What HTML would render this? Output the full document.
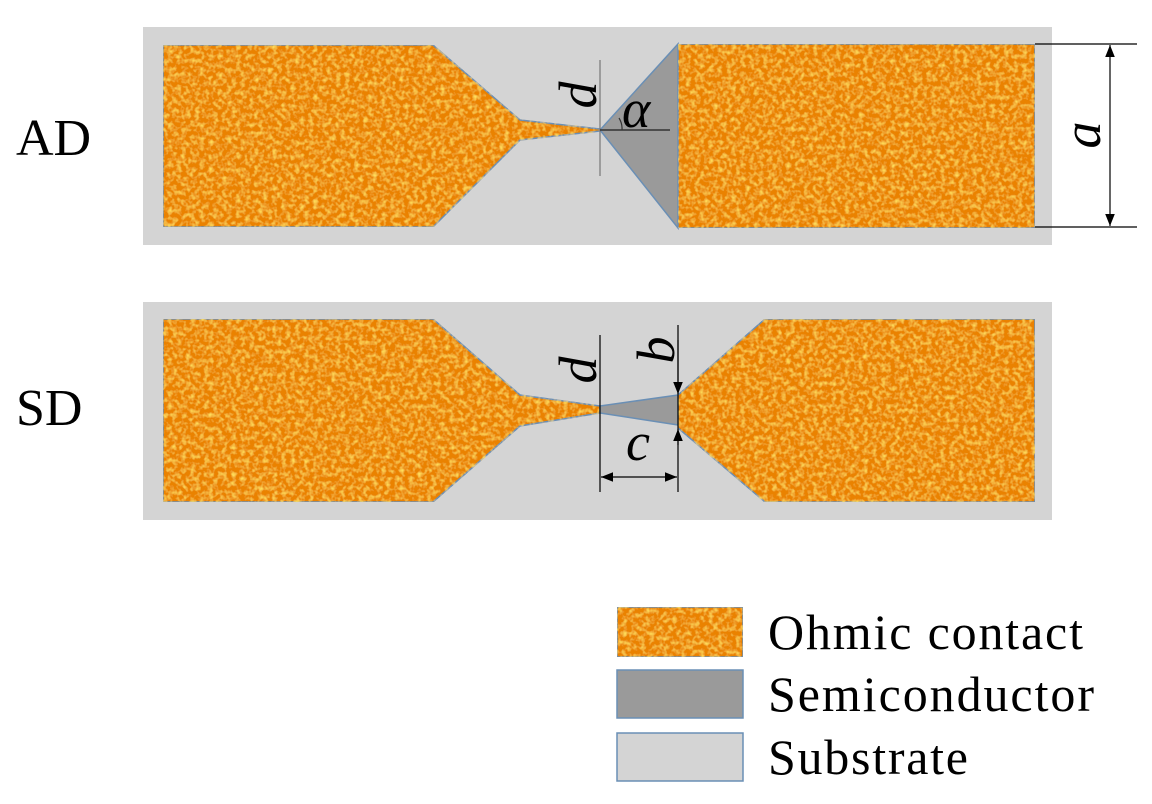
<!DOCTYPE html>
<html><head><style>html,body{margin:0;padding:0;background:#fff}svg{display:block}</style></head>
<body>
<svg width="1152" height="804" viewBox="0 0 1152 804" xmlns="http://www.w3.org/2000/svg" font-family="Liberation Serif, serif">
<defs>
<filter id="tex" x="0" y="0" width="100%" height="100%">
<feTurbulence type="fractalNoise" baseFrequency="0.22" numOctaves="2" seed="3" result="n"/>
<feColorMatrix in="n" type="matrix" values="0 0 0 0 1  0 0 0 0 0.72  0 0 0 0 0.1  0 0 0 -2.2 1.25" result="m"/>
<feComposite in="m" in2="SourceGraphic" operator="in" result="c"/>
<feMerge><feMergeNode in="SourceGraphic"/><feMergeNode in="c"/></feMerge>
</filter>
<marker id="ar" viewBox="0 0 10 10" refX="10" refY="5" markerWidth="12" markerHeight="12" orient="auto-start-reverse" markerUnits="userSpaceOnUse"><path d="M0,1 L10,5 L0,9 z" fill="#000"/></marker>
</defs>
<g stroke="#6a8fb5" stroke-width="1.5">
<rect x="143" y="27" width="909" height="218" fill="#d4d4d4" stroke="none"/>
<polygon points="163,45 433,45 520,120 600,129 600,131 520,140 433,227 163,227" fill="#ea8204" filter="url(#tex)"/>
<polygon points="600,130 678,44 678,228" fill="#9a9a9a"/>
<rect x="678" y="44" width="357" height="184" fill="#ea8204" filter="url(#tex)"/>
<rect x="143" y="302" width="909" height="218" fill="#d4d4d4" stroke="none"/>
<polygon points="163,319 433,319 520,395 600,406 600,413 520,426 433,502 163,502" fill="#ea8204" filter="url(#tex)"/>
<polygon points="600,406 678,395 678,425 600,413" fill="#9a9a9a"/>
<polygon points="678,395 765,319 1035,319 1035,502 765,502 678,428" fill="#ea8204" filter="url(#tex)"/>
</g>
<g stroke="#000" stroke-width="1.2" fill="none">
<line x1="600" y1="60" x2="600" y2="176" stroke="#777"/>
<line x1="600" y1="130" x2="670" y2="130" stroke="#333" stroke-width="1.5"/>
<path d="M619,118 A20,20 0 0 1 622,130" stroke="#333"/>
<line x1="1035" y1="44" x2="1137" y2="44"/>
<line x1="1035" y1="227" x2="1137" y2="227"/>
<line x1="1110" y1="45" x2="1110" y2="226" marker-start="url(#ar)" marker-end="url(#ar)"/>
<line x1="600" y1="335" x2="600" y2="492"/>
<line x1="678" y1="325" x2="678" y2="492"/>
<line x1="678" y1="340" x2="678" y2="394" marker-end="url(#ar)"/>
<line x1="678" y1="445" x2="678" y2="429" marker-end="url(#ar)"/>
<line x1="601" y1="477" x2="677" y2="477" marker-start="url(#ar)" marker-end="url(#ar)"/>
</g>
<g font-size="54" font-style="italic" fill="#000">
<text transform="translate(596,95) rotate(-90)" text-anchor="middle">d</text>
<text x="622" y="127" font-size="54">α</text>
<text transform="translate(1100,135) rotate(-90)" text-anchor="middle">a</text>
<text transform="translate(596,370) rotate(-90)" text-anchor="middle">d</text>
<text transform="translate(674,350) rotate(-90)" text-anchor="middle">b</text>
<text x="638" y="460" text-anchor="middle">c</text>
</g>
<g font-size="52" fill="#000">
<text x="16" y="155">AD</text>
<text x="16" y="425">SD</text>
</g>
<g stroke="#6a8fb5" stroke-width="1.5">
<rect x="617" y="607" width="126" height="50" fill="#ea8204" filter="url(#tex)"/>
<rect x="617" y="670" width="126" height="48" fill="#9a9a9a"/>
<rect x="617" y="733" width="126" height="48" fill="#d4d4d4"/>
</g>
<g font-size="50" fill="#000">
<text x="768" y="649" textLength="315">Ohmic contact</text>
<text x="768" y="711" textLength="326">Semiconductor</text>
<text x="768" y="774" textLength="200">Substrate</text>
</g>
</svg>
</body></html>
